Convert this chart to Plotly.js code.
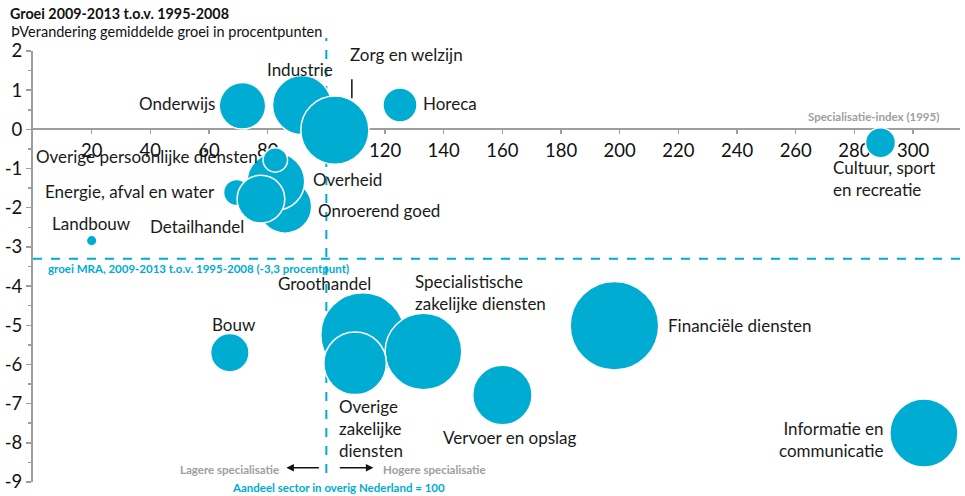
<!DOCTYPE html>
<html>
<head>
<meta charset="utf-8">
<script src="https://cdn.plot.ly/plotly-3.0.1.min.js"></script>
<style>html,body{margin:0;padding:0;background:#fff;}#chart{width:965px;height:496px;}</style>
</head>
<body>
<div id="chart"></div>
<script>
// ---- data (drawing order: back to front) ----
var sectors = ["Landbouw","Onderwijs","Industrie","Zorg en welzijn","Horeca","Cultuur, sport en recreatie",
  "Onroerend goed","Overheid","Energie, afval en water","Detailhandel","Overige persoonlijke diensten",
  "Groothandel","Specialistische zakelijke diensten","Overige zakelijke diensten","Bouw","Vervoer en opslag",
  "Financiële diensten","Informatie en communicatie"];
var specialisatieIndex = [20, 71.4, 91.7, 102.9, 125.1, 288.9, 85.9, 82.8, 69.4, 77.7, 82.6, 112.4, 133.1, 109.8, 67.1, 160.0, 198.2, 303.7];
var groeiVerschil = [-2.84, 0.60, 0.62, -0.02, 0.62, -0.34, -1.97, -1.33, -1.61, -1.78, -0.78, -5.24, -5.67, -5.97, -5.70, -6.78, -5.01, -7.75];
var omvang = [2.8, 54, 87, 116, 29, 22.5, 71, 83, 17, 57, 15, 176, 147, 98, 37, 88, 196, 116];
var labelTexts = ["Landbouw","Onderwijs","Industrie","Zorg en welzijn","Horeca","Cultuur, sport<br>en recreatie",
  "Onroerend goed","Overheid","Energie, afval en water","Detailhandel","Overige persoonlijke diensten",
  "Groothandel","Specialistische<br>zakelijke diensten","Overige<br>zakelijke<br>diensten","Bouw","Vervoer en opslag",
  "Financiële diensten","Informatie en<br>communicatie"];
var xTicks = [20,40,60,80,100,120,140,160,180,200,220,240,260,280,300];
var yTicks = [2,1,0,-1,-2,-3,-4,-5,-6,-7,-8,-9];
var groeiMRA = -3.3;
var referentieIndex = 100;

// ---- label placement (style) ----
var labelPos = {
  "Landbouw": {a:"center", dx:0, dy:17},
  "Onderwijs": {a:"right", dx:-25, dy:2},
  "Industrie": {a:"center", dx:-2, dy:36},
  "Zorg en welzijn": {a:"left", dx:13, dy:76},
  "Horeca": {a:"left", dx:21, dy:2},
  "Cultuur, sport en recreatie": {a:"left", dx:-50, dy:-36},
  "Onroerend goed": {a:"left", dx:31, dy:-4},
  "Overheid": {a:"left", dx:35, dy:2},
  "Energie, afval en water": {a:"right", dx:-20, dy:1},
  "Detailhandel": {a:"right", dx:-15, dy:-27},
  "Overige persoonlijke diensten": {a:"right", dx:-15, dy:3},
  "Groothandel": {a:"right", dx:10, dy:51},
  "Specialistische zakelijke diensten": {a:"left", dx:-10, dy:59},
  "Overige zakelijke diensten": {a:"left", dx:-18, dy:-65},
  "Bouw": {a:"center", dx:4, dy:28},
  "Vervoer en opslag": {a:"left", dx:-61, dy:-42},
  "Financiële diensten": {a:"left", dx:52, dy:0},
  "Informatie en communicatie": {a:"right", dx:-38, dy:-6}
};

var FONT = "Lato, 'Open Sans', sans-serif";
var CYAN = "#00acd1";
var GREY = "#9e9e9e";
var SMALL = 11.5;

var trace = {
  type: "scatter", mode: "markers",
  x: specialisatieIndex, y: groeiVerschil, text: sectors,
  marker: {size: omvang, sizemode: "area", sizeref: 0.05, color: CYAN, opacity: 1,
           line: {color: "#ffffff", width: 1.5}},
  hoverinfo: "text", cliponaxis: false
};

var annotations = [];
sectors.forEach(function(s, i){
  var p = labelPos[s];
  annotations.push({
    x: specialisatieIndex[i], y: groeiVerschil[i], xref: "x", yref: "y",
    text: labelTexts[i], showarrow: false, xanchor: p.a, yanchor: "middle",
    align: p.a === "center" ? "center" : p.a, xshift: p.dx, yshift: p.dy,
    font: {family: FONT, size: 17, color: "#1a1a1a"}
  });
});

// titles
annotations.push({xref:"paper", yref:"paper", x:-0.027, y:1.088, xanchor:"left", yanchor:"middle", showarrow:false,
  text:"<b>Groei 2009-2013 t.o.v. 1995-2008</b>", font:{family:FONT, size:14.3, color:"#111"}});
annotations.push({xref:"paper", yref:"paper", x:-0.026, y:1.046, xanchor:"left", yanchor:"middle", showarrow:false,
  text:"ÞVerandering gemiddelde groei in procentpunten", font:{family:FONT, size:14.5, color:"#111"}});
// axis notes
annotations.push({xref:"paper", yref:"y", x:0.9795, y:0, yshift:13, xanchor:"right", yanchor:"middle", showarrow:false,
  text:"<b>Specialisatie-index (1995)</b>", font:{family:FONT, size:SMALL, color:GREY}});
annotations.push({xref:"paper", yref:"y", x:0.014, y:groeiMRA, yshift:-10, xanchor:"left", yanchor:"middle", showarrow:false,
  text:"<b>groei MRA, 2009-2013 t.o.v. 1995-2008 (-3,3 procentpunt)</b>", font:{family:FONT, size:SMALL, color:CYAN}});
annotations.push({xref:"x", yref:"paper", x:referentieIndex, xshift:-45, y:0.030, xanchor:"right", yanchor:"middle", showarrow:false,
  text:"<b>Lagere specialisatie</b>", font:{family:FONT, size:SMALL, color:GREY}});
annotations.push({xref:"x", yref:"paper", x:referentieIndex, xshift:55, y:0.030, xanchor:"left", yanchor:"middle", showarrow:false,
  text:"<b>Hogere specialisatie</b>", font:{family:FONT, size:SMALL, color:GREY}});
annotations.push({xref:"x", yref:"paper", x:referentieIndex, xshift:12, y:-0.012, xanchor:"center", yanchor:"middle", showarrow:false,
  text:"<b>Aandeel sector in overig Nederland = 100</b>", font:{family:FONT, size:SMALL, color:CYAN}});
// arrows
annotations.push({xref:"x", yref:"paper", x:referentieIndex, xshift:-40, y:0.033, text:"", showarrow:true,
  ax:34, ay:0, arrowhead:2, arrowsize:1, arrowwidth:1.5, arrowcolor:"#111", standoff:0, startstandoff:0});
annotations.push({xref:"x", yref:"paper", x:referentieIndex, xshift:47, y:0.033, text:"", showarrow:true,
  ax:-35, ay:0, arrowhead:2, arrowsize:1, arrowwidth:1.5, arrowcolor:"#111", standoff:0, startstandoff:0});

var zi = sectors.indexOf("Zorg en welzijn");
var shapes = [
  {type:"line", xref:"x", yref:"paper", x0:referentieIndex, x1:referentieIndex, y0:0.021, y1:1.03, layer:"below",
   line:{color:CYAN, width:2, dash:"dash"}},
  {type:"line", xref:"paper", yref:"y", x0:0, x1:1, y0:groeiMRA, y1:groeiMRA, layer:"below",
   line:{color:CYAN, width:2, dash:"dash"}},
  {type:"line", xref:"x", yref:"y", xsizemode:"pixel", ysizemode:"pixel",
   xanchor:specialisatieIndex[zi], yanchor:groeiVerschil[zi], x0:17, x1:17, y0:32, y1:51,
   line:{color:"#111", width:1.5}}
];

var layout = {
  width: 965, height: 496,
  margin: {l:33, r:5, t:51, b:14},
  paper_bgcolor: "#fff", plot_bgcolor: "#fff",
  showlegend: false,
  font: {family: FONT, color: "#111"},
  xaxis: {
    range: [0, 316], tickvals: xTicks, ticktext: xTicks.map(String),
    anchor: "free", position: 9/11, side: "bottom",
    showline: true, linecolor: GREY, linewidth: 2,
    ticks: "outside", ticklen: 4, tickwidth: 1.5, tickcolor: GREY,
    tickfont: {family: FONT, size: 18.5, color: "#111"},
    showgrid: false, zeroline: false, layer: "below traces", fixedrange: true
  },
  yaxis: {
    range: [-9, 2], tickvals: yTicks, ticktext: yTicks.map(String),
    showline: true, linecolor: GREY, linewidth: 2,
    ticks: "outside", ticklen: 5, tickwidth: 1.5, tickcolor: GREY,
    minor: {dtick: 0.5, tick0: 0, ticklen: 3, tickwidth: 1.5, tickcolor: GREY, ticks: "outside"},
    tickfont: {family: FONT, size: 18.5, color: "#111"},
    showgrid: false, zeroline: false, layer: "below traces", fixedrange: true
  },
  shapes: shapes,
  annotations: annotations
};

Plotly.newPlot("chart", [trace], layout, {displayModeBar: false, staticPlot: true});
</script>
</body>
</html>
